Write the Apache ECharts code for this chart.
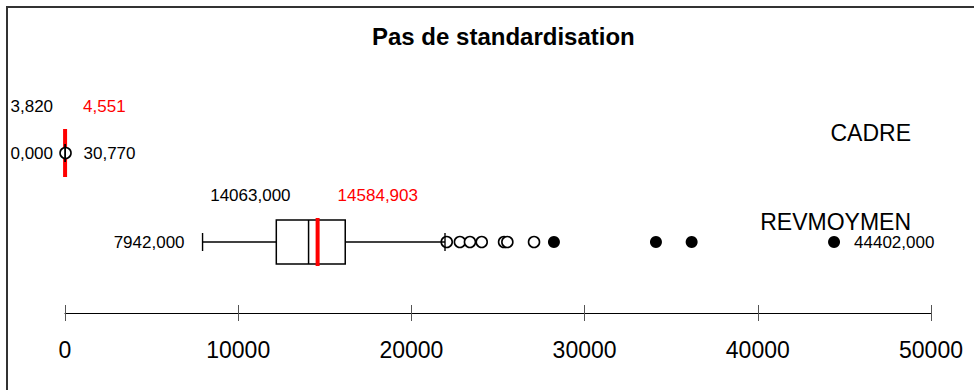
<!DOCTYPE html>
<html>
<head>
<meta charset="utf-8">
<script src="https://cdn.jsdelivr.net/npm/echarts@6/dist/echarts.min.js"></script>
<style>
  html, body { margin: 0; padding: 0; background: #fff; }
  #chart { width: 974px; height: 390px; }
</style>
</head>
<body>
<div id="chart"></div>
<script>
// Box-plot summaries, one entry per variable (bottom row first)
var categories = ['REVMOYMEN', 'CADRE'];
var minValues = [7942, 0];
var q1Values = [12200, 0];
var medianValues = [14063, 3.82];
var q3Values = [16180, 8.5];
var whiskerHighValues = [21940, 19];
var maxValues = [44402, 30.77];
var meanValues = [14584.903, 4.551];
// Outliers: open circles (mild) and filled dots (extreme)
var mildOutliers = [[22040, 22800, 23380, 24060, 25350, 25540, 27080], [30.77]];
var extremeOutliers = [[28230, 34120, 36180, 44402], []];
// Value axis ticks
var axisMin = 0;
var axisMax = 50000;
var axisStep = 10000;

// Label spacing per row: [gap for left-side labels, gap for right-side labels]
var labelGaps = { REVMOYMEN: [18, 20], CADRE: [12, 18] };

var FONT = '"Liberation Sans", Arial, Helvetica, sans-serif';
var BOX_H = 44, MEAN_H = 48, CAP_H = 18;

function fmt(v) { return v.toFixed(3).replace('.', ','); }

var boxData = categories.map(function (c, i) {
  return [i, minValues[i], q1Values[i], medianValues[i], q3Values[i], whiskerHighValues[i], meanValues[i], maxValues[i]];
});

function scatterData(groups) {
  var out = [];
  groups.forEach(function (vals, i) {
    vals.forEach(function (v) { out.push([v, i]); });
  });
  return out;
}

// Box body, median line and red mean line
function renderBox(params, api) {
  var cat = api.value(0);
  var yc = api.coord([axisMin, cat])[1];
  var xq1 = api.coord([api.value(2), cat])[0];
  var xmed = api.coord([api.value(3), cat])[0];
  var xq3 = api.coord([api.value(4), cat])[0];
  var xmean = api.coord([api.value(6), cat])[0];
  return {
    type: 'group',
    children: [
      { type: 'rect', shape: { x: xq1, y: yc - BOX_H / 2, width: Math.max(xq3 - xq1, 0.5), height: BOX_H },
        style: { fill: '#fff', stroke: '#000', lineWidth: 1.5 } },
      { type: 'line', shape: { x1: xmed, y1: yc - BOX_H / 2, x2: xmed, y2: yc + BOX_H / 2 },
        style: { stroke: '#000', lineWidth: 1.5 } },
      { type: 'line', shape: { x1: xmean, y1: yc - MEAN_H / 2, x2: xmean, y2: yc + MEAN_H / 2 },
        style: { stroke: '#ff0000', lineWidth: 4 } }
    ]
  };
}

// Whiskers, end caps and the value labels
function renderWhiskers(params, api) {
  var cat = api.value(0);
  var name = categories[cat];
  var gaps = labelGaps[name];
  var yc = api.coord([axisMin, cat])[1];
  var vmin = api.value(1), vmed = api.value(3), vmean = api.value(6), vmax = api.value(7);
  var xmin = api.coord([vmin, cat])[0];
  var xq1 = api.coord([api.value(2), cat])[0];
  var xmed = api.coord([vmed, cat])[0];
  var xq3 = api.coord([api.value(4), cat])[0];
  var xwh = api.coord([api.value(5), cat])[0];
  var xmean = api.coord([vmean, cat])[0];
  var xmax = api.coord([vmax, cat])[0];
  var xRight = api.coord([axisMax, cat])[0];
  var line = function (x1, y1, x2, y2) {
    return { type: 'line', shape: { x1: x1, y1: y1, x2: x2, y2: y2 }, style: { stroke: '#000', lineWidth: 1.4 } };
  };
  var text = function (t, x, y, align, color, size) {
    return { type: 'text', style: { text: t, x: x, y: y, align: align, verticalAlign: 'middle',
      fill: color, font: (size || 17) + 'px ' + FONT } };
  };
  return {
    type: 'group',
    children: [
      line(xmin, yc, xq1, yc),
      line(xq3, yc, xwh, yc),
      line(xmin, yc - CAP_H / 2, xmin, yc + CAP_H / 2),
      line(xwh, yc - CAP_H / 2, xwh, yc + CAP_H / 2),
      text(fmt(vmed), xmed - gaps[0], yc - 46.5, 'right', '#000'),
      text(fmt(vmean), xmean + gaps[1], yc - 46.5, 'left', '#ff0000'),
      text(fmt(vmin), xmin - gaps[0], yc, 'right', '#000'),
      text(fmt(vmax), xmax + gaps[1], yc, 'left', '#000'),
      text(name, xRight - 20, yc - 20, 'right', '#000', 23)
    ]
  };
}

var chart = echarts.init(document.getElementById('chart'), null, { renderer: 'svg' });
chart.setOption({
  backgroundColor: '#fff',
  animation: false,
  title: {
    text: 'Pas de standardisation',
    left: 367,
    top: 19,
    textStyle: { fontFamily: FONT, fontWeight: 'bold', fontSize: 24, color: '#000' }
  },
  graphic: [
    { type: 'line', shape: { x1: 6, y1: 7, x2: 974, y2: 7 }, style: { stroke: '#333', lineWidth: 2 } },
    { type: 'line', shape: { x1: 7, y1: 6, x2: 7, y2: 390 }, style: { stroke: '#333', lineWidth: 2 } }
  ],
  grid: { left: 65, right: 43, top: 108.5, bottom: 103.5, containLabel: false },
  xAxis: [
    {
      type: 'value', min: axisMin, max: axisMax, interval: axisStep,
      position: 'bottom', offset: 26.5,
      splitLine: { show: false },
      axisLine: { show: true, lineStyle: { color: '#000', width: 1 } },
      axisTick: { show: true, length: 8, lineStyle: { color: '#555', width: 1 } },
      axisLabel: { margin: 25, fontFamily: FONT, fontSize: 23, color: '#000',
        formatter: function (v) { return String(v); } }
    },
    {
      type: 'value', min: axisMin, max: axisMax, interval: axisStep,
      position: 'bottom', offset: 26.5,
      splitLine: { show: false },
      axisLine: { show: false },
      axisTick: { show: true, inside: true, length: 8, lineStyle: { color: '#555', width: 1 } },
      axisLabel: { show: false }
    }
  ],
  yAxis: {
    type: 'category', data: categories, boundaryGap: true,
    show: false
  },
  series: [
    {
      type: 'custom', name: 'box', z: 2,
      renderItem: renderBox,
      encode: { x: [1, 2, 3, 4, 5, 6, 7], y: 0 },
      data: boxData
    },
    {
      type: 'scatter', name: 'mild', z: 3,
      symbol: 'circle', symbolSize: 11,
      itemStyle: { color: '#fff', borderColor: '#000', borderWidth: 1.6, opacity: 1 },
      data: scatterData(mildOutliers)
    },
    {
      type: 'scatter', name: 'extreme', z: 3,
      symbol: 'circle', symbolSize: 12,
      itemStyle: { color: '#000', opacity: 1 },
      data: scatterData(extremeOutliers)
    },
    {
      type: 'custom', name: 'whiskers', z: 4,
      renderItem: renderWhiskers,
      encode: { x: [1, 2, 3, 4, 5, 6, 7], y: 0 },
      data: boxData
    }
  ]
});
</script>
</body>
</html>
